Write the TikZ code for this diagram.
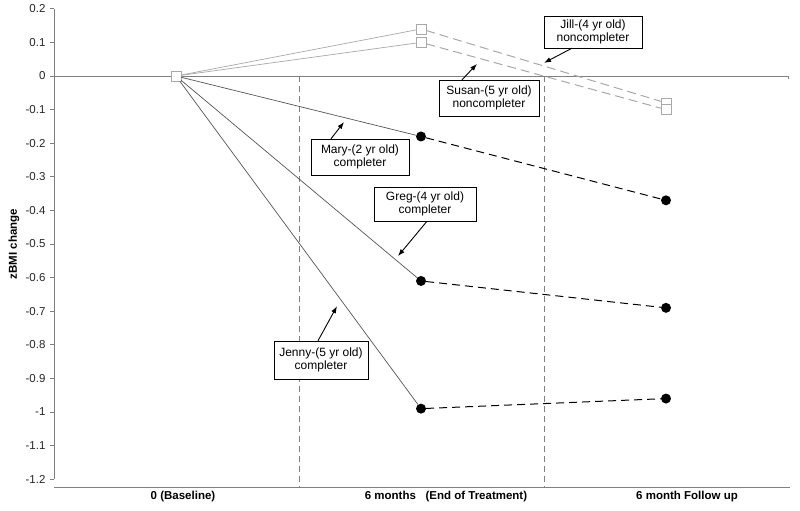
\documentclass[tikz,border=0pt]{standalone}
\usepackage{fontspec}
\setmainfont{Liberation Sans}
\usetikzlibrary{arrows.meta}

\definecolor{axisgray}{HTML}{808080}
\definecolor{sqgray}{HTML}{A8A8A8}
\definecolor{dotgray}{HTML}{555555}

\tikzset{
    note/.style={draw=black, fill=white, align=center, minimum width=98pt, minimum height=34pt,
        inner sep=2pt, font=\fontsize{12}{13.5}\selectfont},
    sq/.style={draw=sqgray, fill=white, rectangle, minimum size=10pt, inner sep=0pt},
    dot/.style={fill=black, circle, minimum size=10pt, inner sep=0pt},
    sqline/.style={draw=sqgray, line width=0.7pt},
    dotline/.style={draw=dotgray, line width=0.7pt},
    sqdash/.style={draw=sqgray, line width=1pt, dash pattern=on 9pt off 5pt},
    dotdash/.style={draw=black, line width=1pt, dash pattern=on 8pt off 5pt},
    pointer/.style={-{Latex[length=7pt,width=5pt]}, line width=0.9pt}
}

\begin{document}
\begin{tikzpicture}[x=1pt, y=336pt]
    \useasboundingbox (0,-1.2946) rectangle (800,0.2262);

    \draw[axisgray, line width=1pt] (54,0.2) -- (54,-1.2);
    \foreach \v in {0.2,0.1,0,-0.1,-0.2,-0.3,-0.4,-0.5,-0.6,-0.7,-0.8,-0.9,-1,-1.1,-1.2} {
        \draw[axisgray, line width=0.8pt] (50,\v) -- (54,\v);
        \node[anchor=east, font=\fontsize{11.5}{12}\selectfont, text=black!85] at (49,\v) {\v};
    }
    \draw[axisgray, line width=1pt] (54,0) -- (788,0) -- (788,-0.01);
    \draw[axisgray, line width=1pt] (54,-1.226) -- (790,-1.226);
    \draw[axisgray, line width=0.9pt, dash pattern=on 6pt off 4pt] (299,0) -- (299,-1.226);
    \draw[axisgray, line width=0.9pt, dash pattern=on 6pt off 4pt] (544,0) -- (544,-1.226);

    \node[rotate=90, font=\bfseries\fontsize{11.5}{12}\selectfont] (ylab) at (14,-0.5) {zBMI change};
    \node[font=\bfseries\fontsize{11.5}{12}\selectfont] (xbase) at (183,-1.253) {0 (Baseline)};
    \node[font=\bfseries\fontsize{11.5}{12}\selectfont] (xend) at (446,-1.253) {6 months~~~(End of Treatment)};
    \node[font=\bfseries\fontsize{11.5}{12}\selectfont] (xfollow) at (687,-1.253) {6 month Follow up};

    \node[sq] (base) at (176,0) {};
    \node[sq] (jillmid) at (421,0.14) {};
    \node[sq] (susanmid) at (421,0.10) {};
    \node[sq] (jillend) at (666,-0.08) {};
    \node[sq] (susanend) at (666,-0.10) {};
    \node[dot] (marymid) at (421,-0.18) {};
    \node[dot] (maryend) at (666,-0.37) {};
    \node[dot] (gregmid) at (421,-0.61) {};
    \node[dot] (gregend) at (666,-0.69) {};
    \node[dot] (jennymid) at (421,-0.99) {};
    \node[dot] (jennyend) at (666,-0.96) {};

    \draw[sqline] (base) -- (jillmid);
    \draw[sqline] (base) -- (susanmid);
    \draw[dotline] (base) -- (marymid);
    \draw[dotline] (base) -- (gregmid);
    \draw[dotline] (base) -- (jennymid);
    \draw[sqdash] (jillmid) -- (jillend);
    \draw[sqdash] (susanmid) -- (susanend);
    \draw[dotdash] (marymid) -- (maryend);
    \draw[dotdash] (gregmid) -- (gregend);
    \draw[dotdash] (jennymid) -- (jennyend);

    \node[note, minimum height=32pt] (jillnote) at (593,0.131) {Jill-(4 yr old)\\noncompleter};
    \node[note, minimum width=100pt, minimum height=36pt] (susannote) at (489,-0.0655) {Susan-(5 yr old)\\noncompleter};
    \node[note, minimum height=36pt] (marynote) at (360,-0.241) {Mary-(2 yr old)\\completer};
    \node[note, minimum width=102pt] (gregnote) at (425,-0.381) {Greg-(4 yr old)\\completer};
    \node[note, minimum width=94pt, minimum height=38pt] (jennynote) at (321,-0.845) {Jenny-(5 yr old)\\completer};

    \coordinate (jillpt) at (544,0.039);
    \coordinate (susanpt) at (477,0.036);
    \coordinate (marypt) at (344,-0.137);
    \coordinate (gregpt) at (398,-0.536);
    \coordinate (jennypt) at (337,-0.685);

    \draw[pointer] ([xshift=-21pt]jillnote.south) -- (jillpt);
    \draw[pointer] ([xshift=-27pt]susannote.north) -- (susanpt);
    \draw[pointer] ([xshift=-29pt]marynote.north) -- (marypt);
    \draw[pointer] ([xshift=2pt]gregnote.south) -- (gregpt);
    \draw[pointer] ([xshift=-3pt]jennynote.north) -- (jennypt);
\end{tikzpicture}
\end{document}
